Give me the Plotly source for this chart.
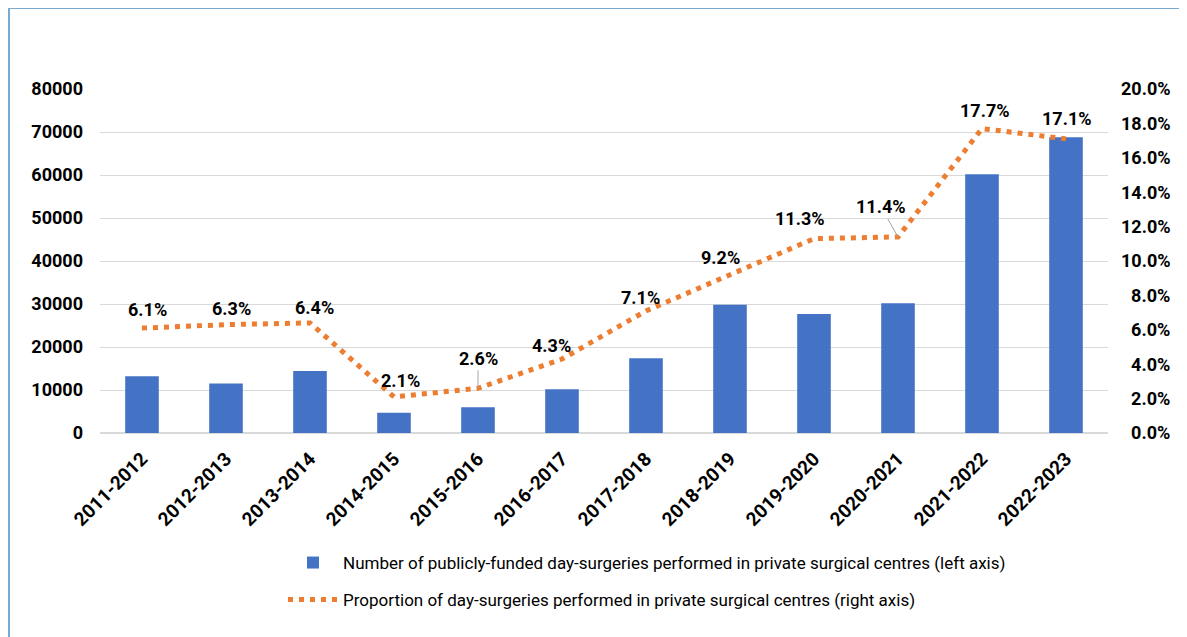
import plotly.graph_objects as go

years = ["2011-2012", "2012-2013", "2013-2014", "2014-2015", "2015-2016", "2016-2017",
         "2017-2018", "2018-2019", "2019-2020", "2020-2021", "2021-2022", "2022-2023"]
surgeries = [13200, 11500, 14400, 4700, 6000, 10200, 17400, 29800, 27700, 30200, 60200, 68800]
proportion = [0.061, 0.063, 0.064, 0.021, 0.026, 0.043, 0.071, 0.092, 0.113, 0.114, 0.177, 0.171]
right_tickvals = [0, 0.02, 0.04, 0.06, 0.08, 0.10, 0.12, 0.14, 0.16, 0.18, 0.20]
right_ticktext = ["\u20070.0%", "\u20072.0%", "\u20074.0%", "\u20076.0%", "\u20078.0%", "10.0%",
                  "12.0%", "14.0%", "16.0%", "18.0%", "20.0%"]

bar_name = "Number of publicly-funded day-surgeries performed in private surgical centres (left axis)"
line_name = "Proportion of day-surgeries performed in private surgical centres (right axis)"

FONT = "Roboto"
BLUE = "#4472C4"
ORANGE = "#ED7D31"

# page offset (browser body margin)
OFF = 8
FW, FH = 1187 - OFF, 637 - OFF
L, R, T, B = 92, 79, 81, 204
W, H = FW - L - R, FH - T - B


def px(page_x):
    return (page_x - OFF - L) / W


def py(page_y):
    return (FH - B - (page_y - OFF)) / H


fig = go.Figure()
fig.add_trace(go.Bar(x=years, y=surgeries, name=bar_name, marker=dict(color=BLUE, line=dict(width=0)),
                     legend="legend"))
fig.add_trace(go.Scatter(x=years, y=proportion, name=line_name, yaxis="y2", mode="lines",
                         line=dict(color=ORANGE, width=5, dash="5px,6px"), legend="legend2"))

# label offsets (pixels) for readability
shifts = [(5, -19), (5, -16), (4, -15), (6, -16), None, (-11, -14), (-6, -13), (-10, -17),
          (-14, -20), None, (3, -18), (1, -20)]
arrows = {4: (0, -30), 9: (-17, -30)}
for i, (yr, p) in enumerate(zip(years, proportion)):
    txt = f"{p*100:.1f}%"
    if i in arrows:
        ax, ay = arrows[i]
        fig.add_annotation(x=yr, y=p, yref="y2", text=txt, showarrow=True, arrowhead=0,
                           arrowwidth=1, arrowcolor="#A6A6A6", ax=ax, ay=ay,
                           font=dict(family=FONT, size=18, color="#000", weight="bold"))
    else:
        dx, dy = shifts[i]
        fig.add_annotation(x=yr, y=p, yref="y2", text=txt, showarrow=False, xshift=dx, yshift=-dy,
                           font=dict(family=FONT, size=18, color="#000", weight="bold"))

# figure border (left and top edges)
fig.add_shape(type="path", xref="paper", yref="paper",
              path=f"M {px(9)} {py(660)} L {px(9)} {py(8)} L {px(1200)} {py(8)}",
              line=dict(color="#7AAACF", width=2))

fig.update_layout(
    width=FW, height=FH,
    margin=dict(l=L, r=R, t=T, b=B),
    paper_bgcolor="white", plot_bgcolor="white",
    font=dict(family=FONT, color="#000"),
    bargap=0.6,
    xaxis=dict(type="category", tickangle=-45, showgrid=False, showline=False, ticks="",
               ticklabelstandoff=10,
               tickfont=dict(family=FONT, size=19, color="#000", weight="bold")),
    yaxis=dict(range=[0, 80000], dtick=10000, tickformat="d", showgrid=True, gridcolor="#D9D9D9",
               gridwidth=1, zeroline=True, zerolinecolor="#D9D9D9", showline=False, ticks="",
               ticklabelstandoff=16,
               tickfont=dict(family=FONT, size=18, color="#000", weight="bold")),
    yaxis2=dict(range=[0, 0.2], overlaying="y", side="right", tickvals=right_tickvals,
                ticktext=right_ticktext, showgrid=False, zeroline=False, showline=False, ticks="",
                ticklabelstandoff=12,
                tickfont=dict(family=FONT, size=18, color="#000", weight="bold")),
    legend=dict(x=px(283), y=py(563), xanchor="left", yanchor="middle", bgcolor="rgba(0,0,0,0)",
                font=dict(family=FONT, size=17, color="#000"), itemwidth=50),
    legend2=dict(x=px(283), y=py(600), xanchor="left", yanchor="middle", bgcolor="rgba(0,0,0,0)",
                 font=dict(family=FONT, size=17, color="#000"), itemwidth=50),
    showlegend=True,
)

fig.write_html("out.html")
